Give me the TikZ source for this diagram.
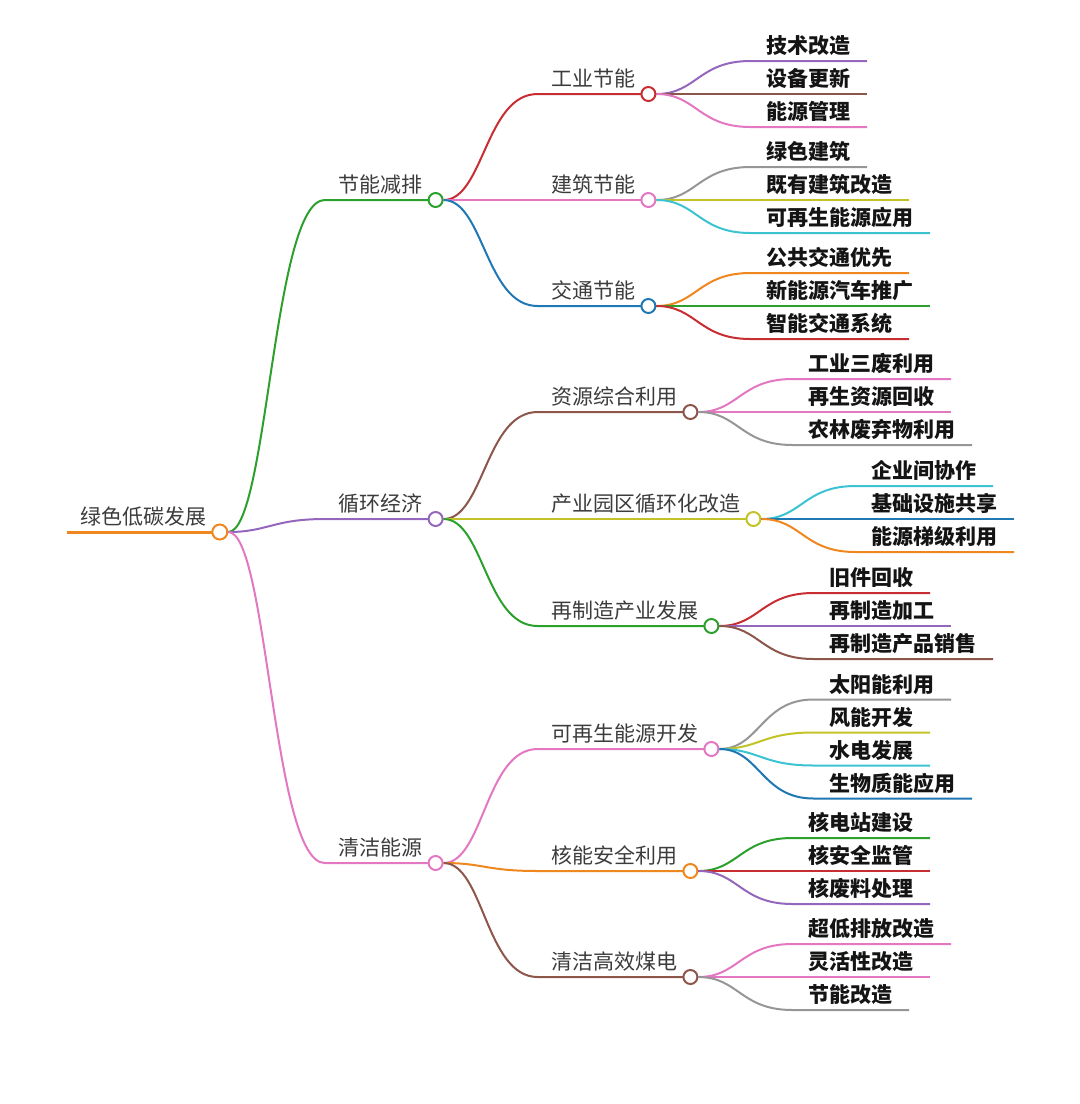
\documentclass[tikz,border=0pt]{standalone}
\usepackage{fontspec}
\newfontfamily\cjk{Noto Sans CJK SC}
\usepackage{tikz}
\usetikzlibrary{calc}
\usepackage{xcolor}
\definecolor{txt}{RGB}{60,60,60}
\definecolor{ink}{RGB}{20,20,20}
\definecolor{mblue}{RGB}{31,119,180}
\definecolor{morange}{RGB}{240,135,30}
\definecolor{mgreen}{RGB}{44,160,44}
\definecolor{mred}{RGB}{200,45,50}
\definecolor{mpurple}{RGB}{148,103,189}
\definecolor{mbrown}{RGB}{140,86,75}
\definecolor{mpink}{RGB}{227,119,194}
\definecolor{mgray}{RGB}{150,150,150}
\definecolor{molive}{RGB}{195,195,40}
\definecolor{mcyan}{RGB}{60,195,210}
\tikzset{
  topic/.style={anchor=south west,inner xsep=6.5pt,inner ysep=2pt,
    text height=8.4pt,text depth=1.4pt,text=txt,
    font=\cjk\fontsize{10.5pt}{12pt}\selectfont},
  leaf/.style={topic,inner xsep=8pt,text=ink,
    font=\cjk\bfseries\fontsize{10.5pt}{12pt}\selectfont},
  link/.style={draw=#1,line width=1pt},
  dot/.style={circle,draw=#1,fill=white,line width=1pt,inner sep=0pt,
    minimum size=7pt},
}

\begin{document}
\begin{tikzpicture}[x=0.5pt,y=-0.5pt]
  \useasboundingbox (0,0) rectangle (1080,1104);
  % root
  \node[topic] (r) at (67,532) {绿色低碳发展};
  \draw[link=morange,line width=1.5pt] (r.south west) -- (r.south east);
  \node[dot=morange,minimum size=7.5pt] (cr) at (r.south east) {};

  % level 1
  \node[topic] (a) at ($(cr)+(105,-332)$) {节能减排};
  \draw[link=mgreen] (cr) .. controls +(48,0) and +(-52,0) .. (a.south west) -- (a.south east);
  \node[dot=mgreen] (ca) at (a.south east) {};
  \node[topic] (b) at ($(cr)+(105,-13)$) {循环经济};
  \draw[link=mpurple] (cr) .. controls +(48,0) and +(-52,0) .. (b.south west) -- (b.south east);
  \node[dot=mpurple] (cb) at (b.south east) {};
  \node[topic] (c) at ($(cr)+(105,331)$) {清洁能源};
  \draw[link=mpink] (cr) .. controls +(48,0) and +(-52,0) .. (c.south west) -- (c.south east);
  \node[dot=mpink] (cc) at (c.south east) {};

  % 节能减排
  \node[topic] (a1) at ($(ca)+(102,-106)$) {工业节能};
  \draw[link=mred] (ca) .. controls +(48,0) and +(-52,0) .. (a1.south west) -- (a1.south east);
  \node[dot=mred] (ca1) at (a1.south east) {};
  \node[topic] (a2) at ($(ca)+(102,0)$) {建筑节能};
  \draw[link=mpink] (ca) .. controls +(48,0) and +(-52,0) .. (a2.south west) -- (a2.south east);
  \node[dot=mpink] (ca2) at (a2.south east) {};
  \node[topic] (a3) at ($(ca)+(102,106)$) {交通节能};
  \draw[link=mblue] (ca) .. controls +(48,0) and +(-52,0) .. (a3.south west) -- (a3.south east);
  \node[dot=mblue] (ca3) at (a3.south east) {};

  \node[leaf] (a11) at ($(ca1)+(102,-33)$) {技术改造};
  \draw[link=mpurple] (ca1) .. controls +(48,0) and +(-52,0) .. (a11.south west) -- (a11.south east);
  \node[leaf] (a12) at ($(ca1)+(102,0)$) {设备更新};
  \draw[link=mbrown] (ca1) .. controls +(48,0) and +(-52,0) .. (a12.south west) -- (a12.south east);
  \node[leaf] (a13) at ($(ca1)+(102,33)$) {能源管理};
  \draw[link=mpink] (ca1) .. controls +(48,0) and +(-52,0) .. (a13.south west) -- (a13.south east);

  \node[leaf] (a21) at ($(ca2)+(102,-33)$) {绿色建筑};
  \draw[link=mgray] (ca2) .. controls +(48,0) and +(-52,0) .. (a21.south west) -- (a21.south east);
  \node[leaf] (a22) at ($(ca2)+(102,0)$) {既有建筑改造};
  \draw[link=molive] (ca2) .. controls +(48,0) and +(-52,0) .. (a22.south west) -- (a22.south east);
  \node[leaf] (a23) at ($(ca2)+(102,33)$) {可再生能源应用};
  \draw[link=mcyan] (ca2) .. controls +(48,0) and +(-52,0) .. (a23.south west) -- (a23.south east);

  \node[leaf] (a31) at ($(ca3)+(102,-33)$) {公共交通优先};
  \draw[link=morange] (ca3) .. controls +(48,0) and +(-52,0) .. (a31.south west) -- (a31.south east);
  \node[leaf] (a32) at ($(ca3)+(102,0)$) {新能源汽车推广};
  \draw[link=mgreen] (ca3) .. controls +(48,0) and +(-52,0) .. (a32.south west) -- (a32.south east);
  \node[leaf] (a33) at ($(ca3)+(102,33)$) {智能交通系统};
  \draw[link=mred] (ca3) .. controls +(48,0) and +(-52,0) .. (a33.south west) -- (a33.south east);

  % 循环经济
  \node[topic] (b1) at ($(cb)+(102,-107)$) {资源综合利用};
  \draw[link=mbrown] (cb) .. controls +(48,0) and +(-52,0) .. (b1.south west) -- (b1.south east);
  \node[dot=mbrown] (cb1) at (b1.south east) {};
  \node[topic] (b2) at ($(cb)+(102,0)$) {产业园区循环化改造};
  \draw[link=molive] (cb) .. controls +(48,0) and +(-52,0) .. (b2.south west) -- (b2.south east);
  \node[dot=molive] (cb2) at (b2.south east) {};
  \node[topic] (b3) at ($(cb)+(102,107)$) {再制造产业发展};
  \draw[link=mgreen] (cb) .. controls +(48,0) and +(-52,0) .. (b3.south west) -- (b3.south east);
  \node[dot=mgreen] (cb3) at (b3.south east) {};

  \node[leaf] (b11) at ($(cb1)+(102,-33)$) {工业三废利用};
  \draw[link=mpink] (cb1) .. controls +(48,0) and +(-52,0) .. (b11.south west) -- (b11.south east);
  \node[leaf] (b12) at ($(cb1)+(102,0)$) {再生资源回收};
  \draw[link=mpink] (cb1) .. controls +(48,0) and +(-52,0) .. (b12.south west) -- (b12.south east);
  \node[leaf] (b13) at ($(cb1)+(102,33)$) {农林废弃物利用};
  \draw[link=mgray] (cb1) .. controls +(48,0) and +(-52,0) .. (b13.south west) -- (b13.south east);

  \node[leaf] (b21) at ($(cb2)+(102,-33)$) {企业间协作};
  \draw[link=mcyan] (cb2) .. controls +(48,0) and +(-52,0) .. (b21.south west) -- (b21.south east);
  \node[leaf] (b22) at ($(cb2)+(102,0)$) {基础设施共享};
  \draw[link=mblue] (cb2) .. controls +(48,0) and +(-52,0) .. (b22.south west) -- (b22.south east);
  \node[leaf] (b23) at ($(cb2)+(102,33)$) {能源梯级利用};
  \draw[link=morange] (cb2) .. controls +(48,0) and +(-52,0) .. (b23.south west) -- (b23.south east);

  \node[leaf] (b31) at ($(cb3)+(102,-33)$) {旧件回收};
  \draw[link=mred] (cb3) .. controls +(48,0) and +(-52,0) .. (b31.south west) -- (b31.south east);
  \node[leaf] (b32) at ($(cb3)+(102,0)$) {再制造加工};
  \draw[link=mpurple] (cb3) .. controls +(48,0) and +(-52,0) .. (b32.south west) -- (b32.south east);
  \node[leaf] (b33) at ($(cb3)+(102,33)$) {再制造产品销售};
  \draw[link=mbrown] (cb3) .. controls +(48,0) and +(-52,0) .. (b33.south west) -- (b33.south east);

  % 清洁能源
  \node[topic] (c1) at ($(cc)+(102,-114)$) {可再生能源开发};
  \draw[link=mpink] (cc) .. controls +(48,0) and +(-52,0) .. (c1.south west) -- (c1.south east);
  \node[dot=mpink] (cc1) at (c1.south east) {};
  \node[topic] (c2) at ($(cc)+(102,8)$) {核能安全利用};
  \draw[link=morange] (cc) .. controls +(48,0) and +(-52,0) .. (c2.south west) -- (c2.south east);
  \node[dot=morange] (cc2) at (c2.south east) {};
  \node[topic] (c3) at ($(cc)+(102,114)$) {清洁高效煤电};
  \draw[link=mbrown] (cc) .. controls +(48,0) and +(-52,0) .. (c3.south west) -- (c3.south east);
  \node[dot=mbrown] (cc3) at (c3.south east) {};

  \node[leaf] (c11) at ($(cc1)+(102,-49.5)$) {太阳能利用};
  \draw[link=mgray] (cc1) .. controls +(48,0) and +(-52,0) .. (c11.south west) -- (c11.south east);
  \node[leaf] (c12) at ($(cc1)+(102,-16.5)$) {风能开发};
  \draw[link=molive] (cc1) .. controls +(48,0) and +(-52,0) .. (c12.south west) -- (c12.south east);
  \node[leaf] (c13) at ($(cc1)+(102,16.5)$) {水电发展};
  \draw[link=mcyan] (cc1) .. controls +(48,0) and +(-52,0) .. (c13.south west) -- (c13.south east);
  \node[leaf] (c14) at ($(cc1)+(102,49.5)$) {生物质能应用};
  \draw[link=mblue] (cc1) .. controls +(48,0) and +(-52,0) .. (c14.south west) -- (c14.south east);

  \node[leaf] (c21) at ($(cc2)+(102,-33)$) {核电站建设};
  \draw[link=mgreen] (cc2) .. controls +(48,0) and +(-52,0) .. (c21.south west) -- (c21.south east);
  \node[leaf] (c22) at ($(cc2)+(102,0)$) {核安全监管};
  \draw[link=mred] (cc2) .. controls +(48,0) and +(-52,0) .. (c22.south west) -- (c22.south east);
  \node[leaf] (c23) at ($(cc2)+(102,33)$) {核废料处理};
  \draw[link=mpurple] (cc2) .. controls +(48,0) and +(-52,0) .. (c23.south west) -- (c23.south east);

  \node[leaf] (c31) at ($(cc3)+(102,-33)$) {超低排放改造};
  \draw[link=mpink] (cc3) .. controls +(48,0) and +(-52,0) .. (c31.south west) -- (c31.south east);
  \node[leaf] (c32) at ($(cc3)+(102,0)$) {灵活性改造};
  \draw[link=mpink] (cc3) .. controls +(48,0) and +(-52,0) .. (c32.south west) -- (c32.south east);
  \node[leaf] (c33) at ($(cc3)+(102,33)$) {节能改造};
  \draw[link=mgray] (cc3) .. controls +(48,0) and +(-52,0) .. (c33.south west) -- (c33.south east);
\end{tikzpicture}
\end{document}
